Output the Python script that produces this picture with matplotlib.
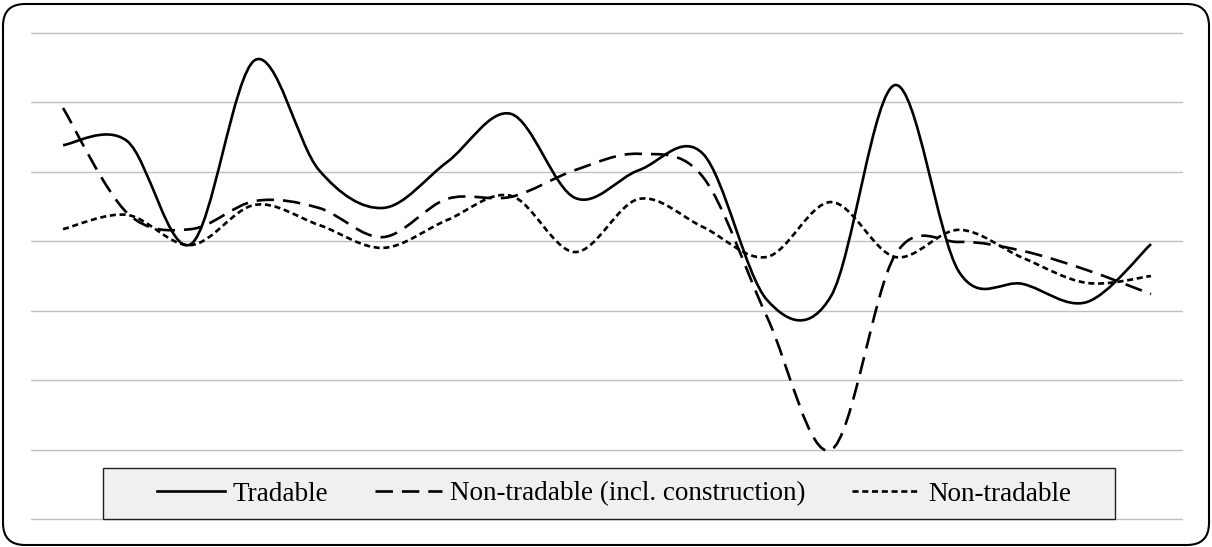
import matplotlib
matplotlib.use("Agg")
import matplotlib.pyplot as plt
from matplotlib.path import Path
from matplotlib.patches import PathPatch, Rectangle, FancyBboxPatch
from matplotlib.lines import Line2D

plt.rcParams['font.family'] = ['Liberation Serif', 'DejaVu Serif']

# 18 periods, values (no axis labels in the original)
periods = list(range(18))
tradable = [2.77, 2.89, -0.08, 5.22, 2.05, 0.96, 2.28, 3.67, 1.25, 2.05,
            2.52, -1.69, -1.58, 4.50, -0.88, -1.23, -1.75, -0.08]
non_tradable_constr = [3.84, 0.82, 0.35, 1.16, 0.96, 0.12, 1.22, 1.28, 2.05, 2.52,
                       1.85, -2.18, -6.01, -0.40, -0.02, -0.28, -0.83, -1.52]
non_tradable = [0.35, 0.76, -0.11, 1.05, 0.47, -0.19, 0.61, 1.31, -0.31, 1.22,
                0.41, -0.45, 1.13, -0.45, 0.33, -0.48, -1.20, -1.00]

labels = ["Tradable", "Non-tradable (incl. construction)", "Non-tradable"]
styles = ['-', (0, (6.6, 3.4)), (0, (2.3, 1.4))]


def smooth_path(xs, ys):
    # Excel-style smoothed line: cubic Bezier through every point
    n = len(xs)
    verts = [(xs[0], ys[0])]
    codes = [Path.MOVETO]
    for i in range(n - 1):
        i0 = max(i - 1, 0)
        i3 = min(i + 2, n - 1)
        c1 = (xs[i] + (xs[i + 1] - xs[i0]) / 6, ys[i] + (ys[i + 1] - ys[i0]) / 6)
        c2 = (xs[i + 1] - (xs[i3] - xs[i]) / 6, ys[i + 1] - (ys[i3] - ys[i]) / 6)
        verts += [c1, c2, (xs[i + 1], ys[i + 1])]
        codes += [Path.CURVE4] * 3
    return Path(verts, codes)


fig = plt.figure(figsize=(12.12, 5.47), dpi=100)
W, H = 1212, 547
# axes: gridlines from x=31..1183 px, y=33..519 px
ppu = (519 - 33) / 14.0
pad = 0.05
top_px = 33 - pad * ppu
bot_px = 519 + pad * ppu
ax = fig.add_axes([31 / W, 1 - bot_px / H, (1183 - 31) / W, (bot_px - top_px) / H])
ax.set_xlim(-0.5, 17.5)
ax.set_ylim(-8 - pad, 6 + pad)
for s in ax.spines.values():
    s.set_visible(False)
ax.set_xticks([])
ax.set_yticks(range(-8, 7, 2))
ax.tick_params(axis='y', length=0, labelleft=False)
ax.grid(axis='y', color='#bfbfbf', linewidth=1.0)
ax.set_axisbelow(True)

for ys, ls in zip([tradable, non_tradable_constr, non_tradable], styles):
    patch = PathPatch(smooth_path(periods, ys), fill=False, edgecolor='black',
                      linewidth=1.9, linestyle=ls, capstyle='butt', zorder=3)
    ax.add_patch(patch)

# legend box
fig.patches.append(Rectangle((103 / W, 1 - 519 / H), (1115 - 103) / W, 51 / H,
                             transform=fig.transFigure, facecolor='#f0f0f0',
                             edgecolor='#202020', linewidth=1.0, zorder=5))
handles = [Line2D([], [], color='black', linewidth=1.9, linestyle=ls) for ls in styles]
fig.legend(handles, labels, ncol=3, loc='center', frameon=False, fontsize=19.5,
           handlelength=2.5, handletextpad=0.3, columnspacing=1.7,
           bbox_to_anchor=(614 / W, 1 - 494 / H))

# rounded outer border
fig.patches.append(FancyBboxPatch((3 / 100, 2 / 100), 1206 / 100, 541 / 100,
                                  boxstyle="round,pad=0,rounding_size=0.22",
                                  transform=fig.dpi_scale_trans, facecolor='none',
                                  edgecolor='black', linewidth=1.5, zorder=0))

fig.savefig('out.png', dpi=100)
